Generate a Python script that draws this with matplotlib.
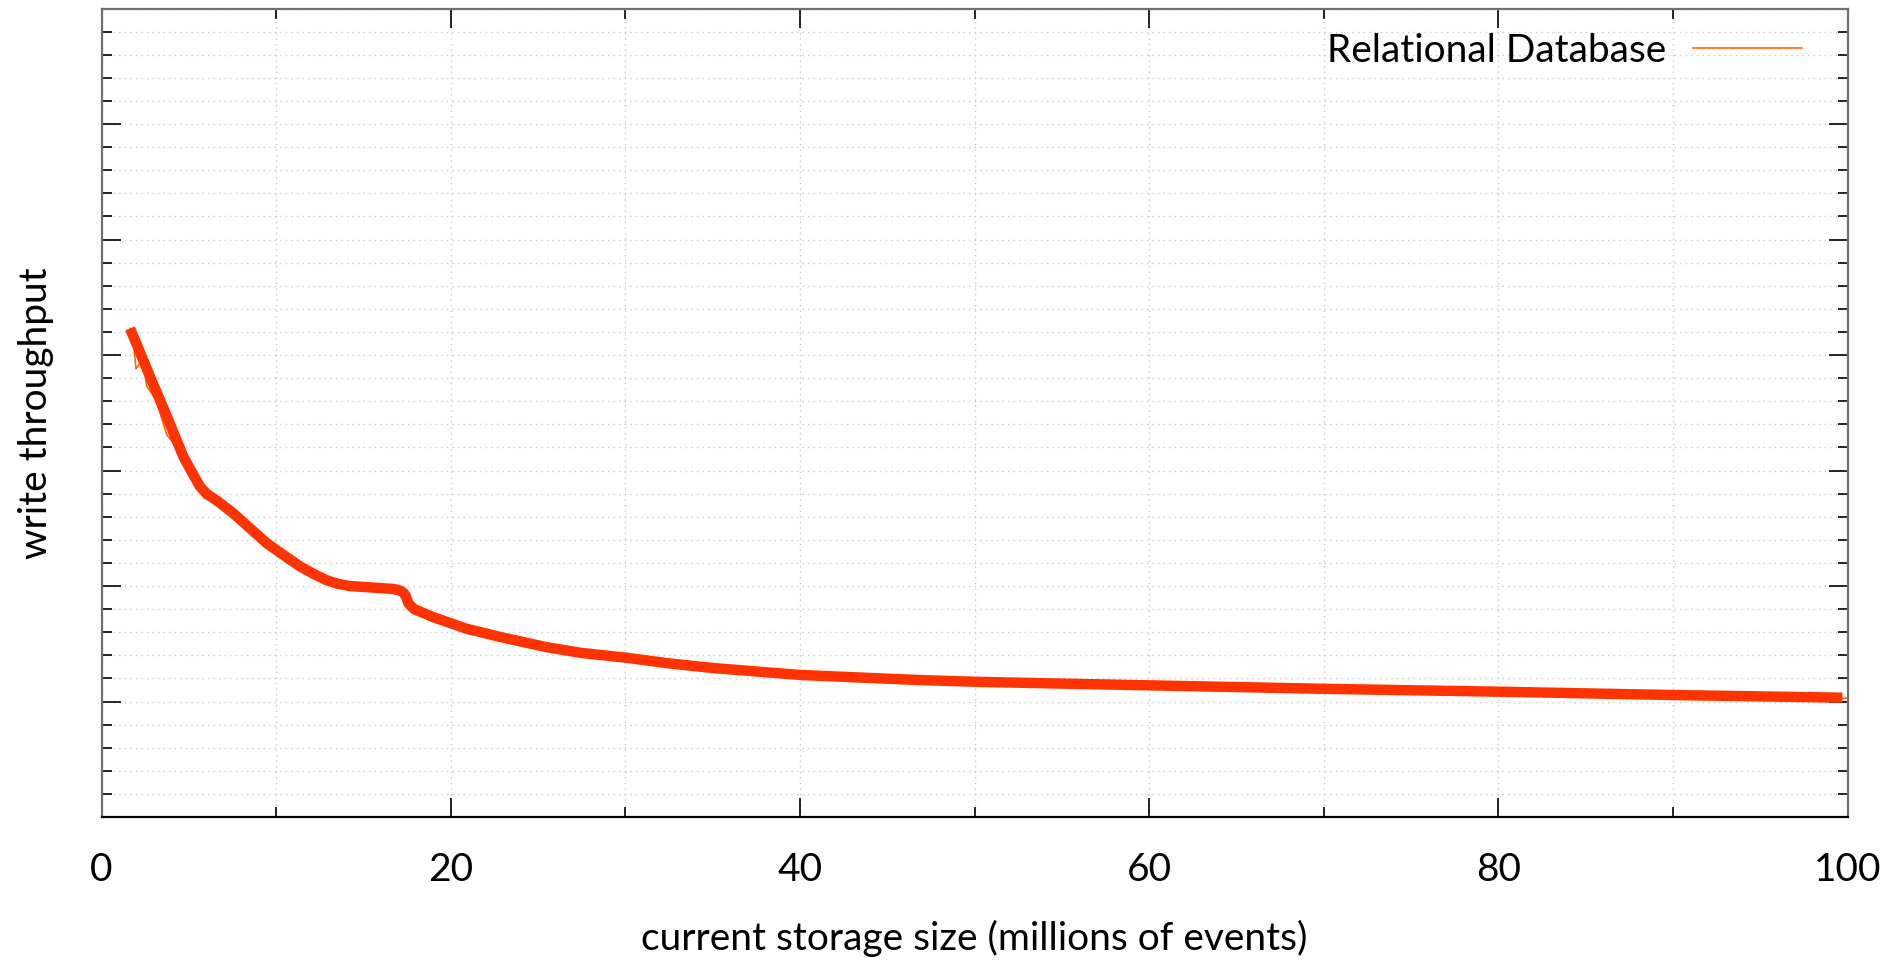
import matplotlib
matplotlib.use('Agg')
import matplotlib.pyplot as plt
from matplotlib.ticker import MultipleLocator, NullFormatter

plt.rcParams['font.family'] = ['Lato', 'DejaVu Sans']

# smoothed curve (x in millions of events, y in grid units)
smooth_x = [1.63, 2.78, 3.73, 4.68, 5.3, 5.64, 6.0, 6.59, 7.54, 8.5, 9.46, 10.4,
            11.36, 12.2, 12.89, 13.5, 14.2, 15.2, 16.14, 16.7, 17.1, 17.3, 17.43,
            17.57, 17.9, 19.0, 20.9, 22.8, 25.5, 27.5, 30.0, 32.5, 35.0, 37.5,
            40.0, 44.6, 47.0, 50.3, 55.0, 60.0, 70.0, 80.0, 90.0, 99.7]
smooth_y = [4.23, 3.81, 3.47, 3.12, 2.95, 2.86, 2.80, 2.74, 2.63, 2.50, 2.37, 2.27,
            2.17, 2.10, 2.05, 2.02, 2.00, 1.99, 1.98, 1.975, 1.96, 1.94, 1.91,
            1.85, 1.80, 1.73, 1.63, 1.56, 1.47, 1.42, 1.38, 1.33, 1.29, 1.26,
            1.23, 1.20, 1.185, 1.17, 1.155, 1.14, 1.11, 1.085, 1.056, 1.033]

# raw measurements (thin line), visible mostly where it sticks out
raw_x = [1.63, 1.82, 1.97, 2.39, 2.58, 3.1, 3.73, 4.2, 4.68, 5.64, 5.9, 6.59,
         7.54, 9.46, 11.36, 12.89, 14.2, 16.14, 17.1, 17.43, 17.57, 19.0,
         20.9, 22.8, 25.5, 30.0, 35.0, 40.0, 44.6, 50.3, 55.0, 60.0, 64.0,
         70.0, 80.0, 85.0, 90.0, 99.7, 100.0]
raw_y = [4.23, 4.12, 3.88, 3.97, 3.73, 3.62, 3.31, 3.22, 3.10, 2.83, 2.76,
         2.72, 2.61, 2.35, 2.15, 2.04, 1.99, 1.97, 1.95, 1.90, 1.83, 1.71,
         1.61, 1.55, 1.46, 1.37, 1.28, 1.22, 1.19, 1.16, 1.14, 1.13, 1.10,
         1.10, 1.075, 1.06, 1.045, 1.025, 1.03]

x_ticks = [0, 20, 40, 60, 80, 100]

fig = plt.figure(figsize=(18.96, 9.66), dpi=100)
ax = fig.add_axes([101.6 / 1896, 149 / 966, 1746 / 1896, 808.5 / 966])

ax.plot(raw_x, raw_y, color='#ff6600', lw=1.2, zorder=2, label='Relational Database')
ax.plot(smooth_x, smooth_y, color='#ff3300', lw=7.5, zorder=3,
        solid_capstyle='butt', solid_joinstyle='round')

ax.set_xlim(0, 100)
ax.set_ylim(0, 7)
ax.set_xticks(x_ticks)
ax.xaxis.set_minor_locator(MultipleLocator(10))
ax.yaxis.set_major_locator(MultipleLocator(1))
ax.yaxis.set_minor_locator(MultipleLocator(0.2))
ax.yaxis.set_major_formatter(NullFormatter())

ax.tick_params(which='both', direction='in', top=True, right=True, color='black', width=1.2)
ax.tick_params(which='major', length=13.5)
ax.tick_params(which='minor', length=7)
ax.tick_params(axis='x', which='major', labelsize=28, pad=25)

ax.grid(which='both', linestyle=(0, (1, 3)), color='#c8c8c8', lw=1.0)
ax.set_axisbelow(True)

for s in ['left', 'right', 'top']:
    ax.spines[s].set_color('#707070')
    ax.spines[s].set_linewidth(1.6)
ax.spines['bottom'].set_color('black')
ax.spines['bottom'].set_linewidth(1.6)

ax.set_xlabel('current storage size (millions of events)', fontsize=28, va='center')
ax.xaxis.set_label_coords(0.5, (817 - 938) / 808.5)
ax.set_ylabel('write throughput', fontsize=28, va='center')
ax.yaxis.set_label_coords((36 - 101.6) / 1746, 0.5)

ax.legend(loc='center right', bbox_to_anchor=(1802 / 1896, 1 - 51 / 966),
          bbox_transform=fig.transFigure, frameon=False, markerfirst=False,
          fontsize=28, handlelength=2.8, handletextpad=0.7, borderpad=0,
          borderaxespad=0)

fig.savefig('out.png', dpi=100)
